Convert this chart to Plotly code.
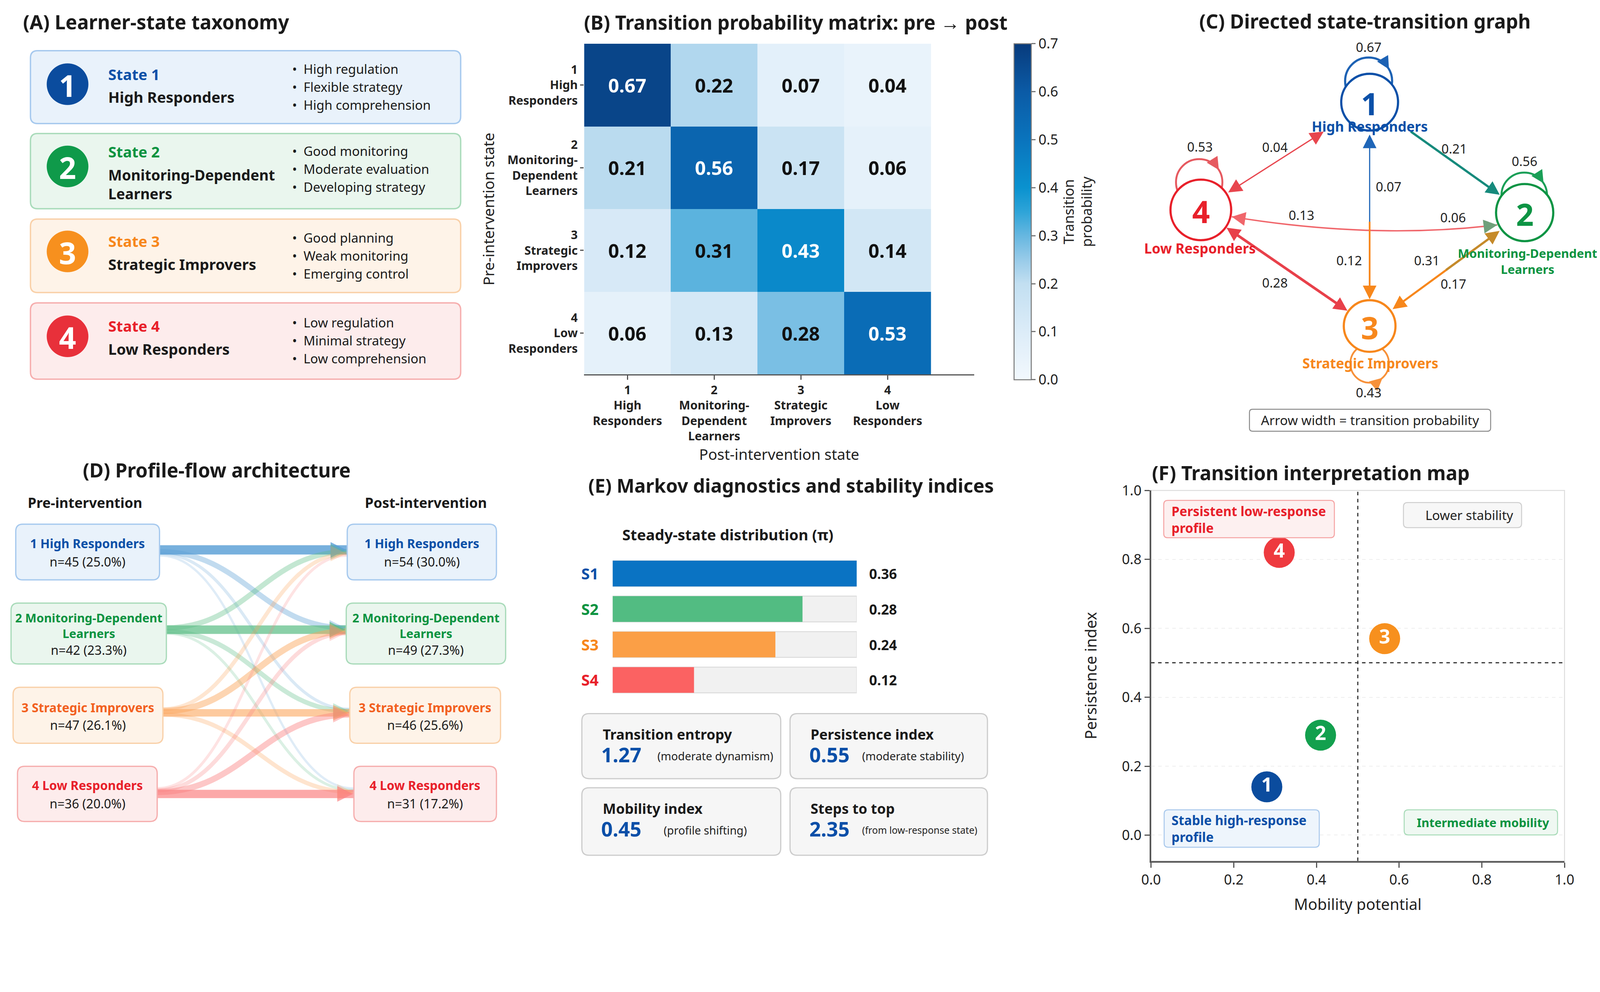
import numpy as np
import plotly.graph_objects as go

# layout is measured on a 1568-wide "display" grid of the reference;
# the affine constants map that grid onto figure pixels as photographed
AX, BX = 0.3776, 13.8
AY, BY = 0.3787, 12.9
W, H = 4100, 2360
S = 2.0 / (AX + AY)


def px(x):
    return (x - BX) / AX / W


def py(y):
    return 1.0 - (y - BY) / AY / H


def fs(d):
    return round(d * S, 1)


FONT = "Noto Sans"
INK = "#1a1a1a"

# ---------------- data ----------------
STATES = ["High Responders", "Monitoring-Dependent Learners", "Strategic Improvers", "Low Responders"]
TRAITS = [
    ["High regulation", "Flexible strategy", "High comprehension"],
    ["Good monitoring", "Moderate evaluation", "Developing strategy"],
    ["Good planning", "Weak monitoring", "Emerging control"],
    ["Low regulation", "Minimal strategy", "Low comprehension"],
]
P = [
    [0.67, 0.22, 0.07, 0.04],
    [0.21, 0.56, 0.17, 0.06],
    [0.12, 0.31, 0.43, 0.14],
    [0.06, 0.13, 0.28, 0.53],
]
HEAT_TICKS = ["1<br>High<br>Responders", "2<br>Monitoring-<br>Dependent<br>Learners",
              "3<br>Strategic<br>Improvers", "4<br>Low<br>Responders"]
PRE_N = [45, 42, 47, 36]
PRE_PCT = [25.0, 23.3, 26.1, 20.0]
POST_N = [54, 49, 46, 31]
POST_PCT = [30.0, 27.3, 25.6, 17.2]
PI_LABELS = ["S1", "S2", "S3", "S4"]
PI = [0.36, 0.28, 0.24, 0.12]
METRIC_NAMES = ["Transition entropy", "Persistence index", "Mobility index", "Steps to top"]
METRIC_VALUES = [1.27, 0.55, 0.45, 2.35]
METRIC_NOTES = ["(moderate dynamism)", "(moderate stability)", "(profile shifting)", "(from low-response state)"]
MAP_LABELS = ["1", "2", "3", "4"]
MOBILITY = [0.28, 0.41, 0.565, 0.31]
PERSISTENCE = [0.14, 0.29, 0.57, 0.82]

# ---------------- colours ----------------
DEEP = ["#0b4c9e", "#0f9a4a", "#f7901e", "#e8303a"]
TXT = ["#0b50a8", "#0a9340", "#f7871c", "#e8202a"]
FILL = ["#e9f2fb", "#eaf6ee", "#fef3e8", "#fdecec"]
EDGE = ["#a6c9ee", "#a9dbba", "#f9d0a8", "#f6aeae"]
FLOWC = ["#5a9fd6", "#5bbd85", "#fca45a", "#fb7f7f"]
DTXT = ["#0b50a8", "#0a9340", "#f2601f", "#e8202a"]
BARC = ["#0a73c3", "#52bc82", "#fb9f46", "#fb6262"]

shapes = []
annots = []


def bl(s):
    return "<br>".join(f"<b>{t}</b>" for t in s.split("<br>"))


def rrect(x0, y0, x1, y1, r, fill, line, lw, layer="below"):
    rx, ry = r / AX / W, r / AY / H
    X0, X1, T, B = px(x0), px(x1), py(y0), py(y1)
    path = (f"M{X0+rx},{T} L{X1-rx},{T} Q{X1},{T} {X1},{T-ry} L{X1},{B+ry} Q{X1},{B} {X1-rx},{B} "
            f"L{X0+rx},{B} Q{X0},{B} {X0},{B+ry} L{X0},{T-ry} Q{X0},{T} {X0+rx},{T} Z")
    shapes.append(dict(type="path", path=path, xref="paper", yref="paper", fillcolor=fill,
                       line=dict(color=line, width=lw), layer=layer))


def circ(cx, cy, r, fill, line, lw, layer="above"):
    shapes.append(dict(type="circle", xref="paper", yref="paper", x0=px(cx - r), x1=px(cx + r),
                       y0=py(cy + r), y1=py(cy - r), fillcolor=fill,
                       line=dict(color=line, width=lw), layer=layer))


def txt(x, y, s, size, color=INK, bold=False, xa="left", ya="middle"):
    if bold:
        s = bl(s)
    annots.append(dict(x=px(x), y=py(y), xref="paper", yref="paper", text=s, showarrow=False,
                       xanchor=xa, yanchor=ya, align=xa,
                       font=dict(size=fs(size), color=color, family=FONT)))


def arrow(h, t, color, w, both=False, opacity=1.0, k=7.0):
    d = dict(x=px(h[0]), y=py(h[1]), xref="paper", yref="paper",
             ax=(t[0] - h[0]) / AX, ay=(t[1] - h[1]) / AY, axref="pixel", ayref="pixel",
             text="", showarrow=True, arrowhead=2, arrowsize=k / w, arrowwidth=w,
             arrowcolor=color, opacity=opacity)
    if both:
        d.update(arrowside="end+start", startarrowhead=2, startarrowsize=k / w)
    annots.append(d)


fig = go.Figure()

TITLE = 18.8

# ================= (A) taxonomy =================
txt(23, 21.4, "(A) Learner-state taxonomy", TITLE, bold=True)
A_BOX = [(49.6, 121.0), (130.7, 204.5), (214.6, 286.6), (296.7, 371.5)]
A_CY = [82.4, 163.0, 246.3, 329.5]
A_TITLE_Y = [72.5, 148.6, 236.3, 319.4]
A_NAME_Y = [94.7, 180.5, 258.7, 341.8]
A_BUL_Y = [67.5, 147.9, 233.0, 316.1]
for i in range(4):
    rrect(31, A_BOX[i][0], 452, A_BOX[i][1], 7, FILL[i], EDGE[i], 3.5)
    circ(67.3, A_CY[i], 20.4, DEEP[i], DEEP[i], 0)
    txt(67.3, A_CY[i] + 0.8, str(i + 1), 29, "white", True, xa="center")
    txt(106.3, A_TITLE_Y[i], f"State {i+1}", 14.5, TXT[i], True)
    txt(106.3, A_NAME_Y[i], STATES[i].replace("Dependent ", "Dependent<br>"),
        14.1 if i == 1 else 14.5, INK, True)
    for k, t in enumerate(TRAITS[i]):
        txt(286.5, A_BUL_Y[i] + k * 17.6, "•", 12.5)
        txt(297.6, A_BUL_Y[i] + k * 17.6, t, 12.5)

# ================= (B) transition matrix =================
BLUES = [[0.0, "#f2f8fd"], [0.143, "#dcecf8"], [0.286, "#c2dff1"], [0.357, "#98cbe9"],
         [0.429, "#66b7e0"], [0.5, "#2ea4d8"], [0.571, "#0a92cf"], [0.714, "#0a74bd"],
         [0.857, "#0b5ba6"], [1.0, "#083b7c"]]
fig.add_trace(go.Heatmap(
    z=P, x=[0, 1, 2, 3], y=[0, 1, 2, 3], zmin=0, zmax=0.7, colorscale=BLUES,
    xaxis="x", yaxis="y", hoverinfo="skip",
    colorbar=dict(x=px(993.5), xanchor="left", y=py(42.7), yanchor="top",
                  len=py(42.7) - py(372), lenmode="fraction", thickness=fs(16.8),
                  xpad=0, ypad=0, outlinewidth=2.5, outlinecolor="#777",
                  ticks="outside", ticklen=fs(4), tickwidth=2.5, tickcolor="#777",
                  tickvals=[0, 0.1, 0.2, 0.3, 0.4, 0.5, 0.6, 0.7], tickformat=".1f",
                  tickfont=dict(size=fs(13.5), color="#222"),
                  title=dict(text="Transition<br>probability", side="right",
                             font=dict(size=fs(13.5), color="#222")))))
for i in range(4):
    for j in range(4):
        v = P[i][j]
        annots.append(dict(x=j, y=i, xref="x", yref="y", text=f"<b>{v:.2f}</b>", showarrow=False,
                           font=dict(size=fs(18.5), color="white" if v > 0.4 else "#111", family=FONT)))
txt(780, 21.6, "(B) Transition probability matrix: pre \u2192 post", TITLE, bold=True, xa="center")

# ================= (C) directed graph =================
txt(1337, 20.6, "(C) Directed state-transition graph", TITLE, bold=True, xa="center")
NODE_XY = np.array([[1341.5, 100.0], [1493.2, 208.2], [1341.5, 319.4], [1176.3, 205.6]])
NODE_R = [27.8, 28.0, 25.3, 29.7]
NODE_LINE = ["#0b50a8", "#0d9444", "#f7871c", "#e8202a"]
LOOPS = [((1340.5, 79.3), 23.0, -30, 1, "#1d62b4"),
         ((1492.8, 191.3), 22.3, -32, 1, "#1a9f57"),
         ((1341.5, 356.1), 18.9, 48, -1, "#f7913a"),
         ((1174.7, 178.5), 22.7, -32, 1, "#e65a60")]


def ew(p):
    return (1.0 + 5.5 * p) * S


# self loops (drawn under the node discs)
for i, (c, r, a, d, col) in enumerate(LOOPS):
    w = (1.0 + 1.6 * P[i][i]) * S
    circ(c[0], c[1], r, "rgba(0,0,0,0)", col, w)
    al = np.deg2rad(a)
    head = np.array([c[0] + r * np.cos(al), c[1] + r * np.sin(al)])
    tang = d * np.array([-np.sin(al), np.cos(al)])
    arrow(head, head - 7 * tang, col, w, k=6.5)

# curved 4 <-> 2 edge
p0, cc, p2 = np.array([1206.6, 212.3]), np.array([1345.0, 235.0]), np.array([1466.4, 220.3])
shapes.append(dict(type="path", xref="paper", yref="paper", layer="above",
                   path=f"M{px(p0[0])},{py(p0[1])} Q{px(cc[0])},{py(cc[1])} {px(p2[0])},{py(p2[1])}",
                   line=dict(color="#f0666b", width=ew(P[3][1]) * 0.8)))
u0 = (cc - p0) / np.linalg.norm(cc - p0)
u2 = (cc - p2) / np.linalg.norm(cc - p2)
arrow(p0, p0 + 9 * u0, "#f0666b", ew(P[3][1]) * 0.8)
arrow(p2, p2 + 9 * u2, "#6fa07a", ew(P[1][3]) * 0.8)

# node discs
for i in range(4):
    circ(NODE_XY[i][0], NODE_XY[i][1], NODE_R[i], "white", NODE_LINE[i], 2.1 * S)
    txt(NODE_XY[i][0], NODE_XY[i][1] + 1, str(i + 1), 30, NODE_LINE[i], True, xa="center")


def seg(a, b, ga, gb):
    pa, pb = NODE_XY[a], NODE_XY[b]
    u = (pb - pa) / np.linalg.norm(pb - pa)
    return pa + u * ga, pb - u * gb


# straight edges
s, e = seg(0, 3, 54, 31.8)
arrow(e, s, "#e8464e", ew(P[0][3]), both=True)
s, e = seg(0, 1, 50, 30)
arrow(e, s, "#168a7c", ew(P[1][0]))
s, e = seg(0, 2, 31.7, 26.2)
m = (s + e) / 2 + np.array([0, 5])
arrow(s, m, "#1f66b8", ew(P[0][2]) * 0.8)
arrow(e, m, "#f7871c", ew(P[2][0]))
s, e = seg(3, 2, 31.6, 26.4)
arrow(e, s, "#e8404a", ew(P[3][2]), both=True)
s, e = seg(1, 2, 30.4, 27.9)
m = (s + e) / 2
arrow(e, m, "#f7871c", ew(P[1][2]))
arrow(s, m, "#c58a2a", ew(P[2][1]) * 0.8)

# node names
txt(1341.5, 123.6, STATES[0], 13.3, TXT[0], True, xa="center")
txt(1496, 248.0, "Monitoring-Dependent", 11.8, TXT[1], True, xa="center")
txt(1496, 263.7, "Learners", 11.8, TXT[1], True, xa="center")
txt(1342, 355.8, STATES[2], 13.3, TXT[2], True, xa="center")
txt(1175.5, 243.1, STATES[3], 13.3, TXT[3], True, xa="center")

# edge probabilities
EDGE_LABELS = [(0, 3, 1248.7, 144.2), (1, 0, 1424.3, 145.6), (0, 2, 1360.3, 182.7),
               (2, 0, 1321.7, 255.0), (3, 1, 1275.0, 210.7), (1, 3, 1423.1, 212.9),
               (3, 2, 1248.7, 277.0), (2, 1, 1397.5, 255.0), (1, 2, 1423.7, 278.0),
               (0, 0, 1340.7, 46.2), (1, 1, 1493.1, 158.0), (3, 3, 1175.4, 143.7),
               (2, 2, 1340.7, 384.6)]
for a, b, x, y in EDGE_LABELS:
    txt(x, y, f"{P[a][b]:.2f}", 12.5, "#222", False, xa="center")

rrect(1223.9, 401, 1459.9, 422.5, 3, "white", "#8a8a8a", 2.5)
txt(1342, 411.7, "Arrow width = transition probability", 12.7, "#222", xa="center")

# ================= (D) profile flow =================
txt(213.5, 460.7, "(D) Profile-flow architecture", TITLE, bold=True, xa="center")
txt(84.5, 492.5, "Pre-intervention", 13.5, bold=True, xa="center")
txt(418, 492.5, "Post-intervention", 13.5, bold=True, xa="center")
PRE_BOX = [(16.6, 513.6, 157.3, 568.2), (12, 591, 164, 650.6), (14, 673.5, 160.6, 728.3), (18.3, 750.9, 155, 805)]
POST_BOX = [(341, 513.6, 487, 568.2), (340, 591, 496, 650.6), (343.5, 673.5, 491, 728.3), (347.5, 750.9, 487, 805)]
FLOW_Y = [538.8, 617.0, 698.5, 778.0]
D_LAB_Y = [532.4, 612.8, 693.2, 769.4]
D_N_Y = [550.2, 636.7, 710.2, 787.0]

for i in range(4):
    for j in range(4):
        p = P[i][j]
        x0, x1 = PRE_BOX[i][2], POST_BOX[j][0]
        y0 = FLOW_Y[i] + (j - i) * 1.8
        y1 = FLOW_Y[j] + (i - j) * 1.8
        dx = x1 - x0
        w = 11 * np.sqrt(p)
        op = min(0.15 + p, 0.85)
        shapes.append(dict(type="path", xref="paper", yref="paper", layer="below", opacity=op,
                           path=(f"M{px(x0)},{py(y0)} C{px(x0 + 0.45*dx)},{py(y0)} "
                                 f"{px(x1 - 0.45*dx)},{py(y1)} {px(x1)},{py(y1)}"),
                           line=dict(color=FLOWC[i], width=w * S)))
        if p >= 0.1:
            arrow((x1 - 1, y1), (x1 - 9, y1), FLOWC[i], 2.5, opacity=min(op, 0.8), k=8)

for i in range(4):
    for box, n, pct in ((PRE_BOX[i], PRE_N[i], PRE_PCT[i]), (POST_BOX[i], POST_N[i], POST_PCT[i])):
        rrect(box[0], box[1], box[2], box[3], 7, FILL[i], EDGE[i], 3.2)
        cx = (box[0] + box[2]) / 2
        txt(cx, D_LAB_Y[i], f"{i+1} " + STATES[i].replace("Dependent ", "Dependent<br>"),
            11.6 if i == 1 else 12.0, DTXT[i], True, xa="center")
        txt(cx, D_N_Y[i], f"n={n} ({pct:.1f}%)", 12.2, INK, xa="center")

# ================= (E) Markov diagnostics =================
txt(775.2, 475.4, "(E) Markov diagnostics and stability indices", 18.3, bold=True, xa="center")
txt(609.2, 523.8, "Steady-state distribution (\u03c0)", 14.5, bold=True)
ypos = list(range(len(PI)))
fig.add_trace(go.Bar(x=[max(PI)] * len(PI), y=ypos, orientation="h", width=0.725,
                     marker=dict(color="#f1f1f1", line=dict(color="#dcdcdc", width=2.5)),
                     xaxis="x2", yaxis="y2", hoverinfo="skip"))
fig.add_trace(go.Bar(x=PI, y=ypos, orientation="h", width=0.725,
                     marker=dict(color=BARC, line=dict(width=0)),
                     xaxis="x2", yaxis="y2", hoverinfo="skip"))
BAR_Y = [562.0, 596.8, 631.6, 666.3]
for i in range(4):
    txt(578.5, BAR_Y[i], PI_LABELS[i], 15, TXT[i], True, xa="center")
    txt(851, BAR_Y[i], f"{PI[i]:.2f}", 13.5, INK, True)

CARDS = [(570.6, 699.3, 765.2, 763), (774.3, 699.3, 967.5, 763),
         (570.6, 771.9, 765.2, 838.1), (774.3, 771.9, 967.5, 838.1)]
NOTE_X = [643.6, 843.9, 649.9, 843.9]
NOTE_SIZE = [10.8, 10.8, 10.8, 9.3]
for k, (x0, y0, x1, y1) in enumerate(CARDS):
    rrect(x0, y0, x1, y1, 7, "#f6f6f6", "#cccccc", 3)
    txt(x0 + 19.5, y0 + 20.3, METRIC_NAMES[k], 13.6, INK, True)
    txt(x0 + 18, y0 + 40.0, f"{METRIC_VALUES[k]:.2f}", 19.5, "#0b4fa8", True)
    txt(NOTE_X[k], y0 + 41.5, METRIC_NOTES[k], NOTE_SIZE[k], "#222")

# ================= (F) interpretation map =================
txt(1127.6, 463.1, "(F) Transition interpretation map", TITLE, bold=True)
fig.add_trace(go.Scatter(x=MOBILITY, y=PERSISTENCE, mode="markers+text",
                         text=[f"<b>{t}</b>" for t in MAP_LABELS], textposition="middle center",
                         textfont=dict(size=fs(19), color="white", family=FONT),
                         marker=dict(size=fs(30), color=["#0b4c9e", "#13a04e", "#f7901e", "#ee3a3f"]),
                         xaxis="x3", yaxis="y3", cliponaxis=False, hoverinfo="skip"))
shapes.append(dict(type="rect", xref="x3 domain", yref="y3 domain", x0=0, x1=1, y0=0, y1=1,
                   line=dict(color="#dddddd", width=2.5), layer="below"))
shapes.append(dict(type="line", xref="x3", yref="y3", x0=0.5, x1=0.5, y0=-0.075, y1=1.0,
                   line=dict(color="#333", width=3, dash="dash")))
shapes.append(dict(type="line", xref="x3", yref="y3", x0=0, x1=1, y0=0.5, y1=0.5,
                   line=dict(color="#333", width=3, dash="dash")))
rrect(1140, 490.3, 1307, 526.9, 4, "#fdf0f0", "#f5a3a3", 2.5, layer="above")
txt(1146.7, 509.3, "Persistent low-response<br>profile", 12.5, "#e8202a", True)
rrect(1374.6, 492.4, 1490.2, 517, 4, "#f7f7f7", "#cfcfcf", 2.5, layer="above")
txt(1395.4, 504.7, "Lower stability", 12.5, "#222")
rrect(1140.4, 793.6, 1292.2, 830.2, 4, "#eef5fc", "#a8c8ec", 2.5, layer="above")
txt(1146.7, 812.0, "Stable high-response<br>profile", 12.5, "#0b4fa8", True)
rrect(1375.3, 793.6, 1525.4, 818.2, 4, "#eff8f2", "#a8dbb8", 2.5, layer="above")
txt(1387, 805.9, "Intermediate mobility", 11.6, "#0a9340", True)

# ================= layout =================
fig.update_layout(
    width=W, height=H, margin=dict(l=0, r=0, t=0, b=0),
    paper_bgcolor="white", plot_bgcolor="white", showlegend=False, barmode="overlay",
    font=dict(family=FONT, color=INK, size=fs(12)),
    xaxis=dict(domain=[px(572.8), px(954.6)], range=[-0.5, 4.0], anchor="y",
               tickvals=[0, 1, 2, 3], ticktext=[bl(t) for t in HEAT_TICKS],
               tickfont=dict(size=fs(11.5), color="#222"), ticks="outside", ticklen=fs(4),
               tickwidth=2.5, tickcolor="#555", showline=True, linecolor="#555", linewidth=3,
               showgrid=False, zeroline=False,
               title=dict(text="Post-intervention state", font=dict(size=fs(14.5), color="#222"),
                          standoff=0)),
    yaxis=dict(domain=[py(366.9), py(42.7)], range=[3.5, -0.5], anchor="x",
               tickvals=[0, 1, 2, 3], ticktext=[bl(t) for t in HEAT_TICKS],
               tickfont=dict(size=fs(11.5), color="#222"), ticks="outside", ticklen=fs(3.5),
               tickwidth=2.5, tickcolor="#555", showline=False, showgrid=False, zeroline=False,
               title=dict(text="Pre-intervention state", font=dict(size=fs(14.5), color="#222"),
                          standoff=fs(8))),
    xaxis2=dict(domain=[px(600.7), px(839.6)], range=[0, max(PI)], anchor="y2", visible=False),
    yaxis2=dict(domain=[py(683.7), py(544.6)], range=[3.5, -0.5], anchor="x2", visible=False),
    xaxis3=dict(domain=[px(1127.6), px(1532.2)], range=[0, 1], anchor="y3",
                tickvals=[0, 0.2, 0.4, 0.6, 0.8, 1.0], tickformat=".1f",
                tickfont=dict(size=fs(13.5), color="#222"), ticks="outside", ticklen=fs(5),
                tickwidth=2.5, tickcolor="#555", showline=True, linecolor="#555", linewidth=4,
                showgrid=False, zeroline=False,
                title=dict(text="Mobility potential", font=dict(size=fs(15), color="#222"),
                           standoff=fs(11))),
    yaxis3=dict(domain=[py(843.7), py(480.5)], range=[-0.075, 1.0], anchor="x3",
                tickvals=[0, 0.2, 0.4, 0.6, 0.8, 1.0], tickformat=".1f",
                tickfont=dict(size=fs(13.5), color="#222"), ticks="outside", ticklen=fs(5),
                tickwidth=2.5, tickcolor="#555", showline=True, linecolor="#555", linewidth=4,
                showgrid=True, gridcolor="#eeeeee", griddash="dash", gridwidth=2, zeroline=False,
                title=dict(text="Persistence index", font=dict(size=fs(15), color="#222"),
                           standoff=fs(20))),
    shapes=shapes, annotations=annots,
)

fig.write_html("out.html")
